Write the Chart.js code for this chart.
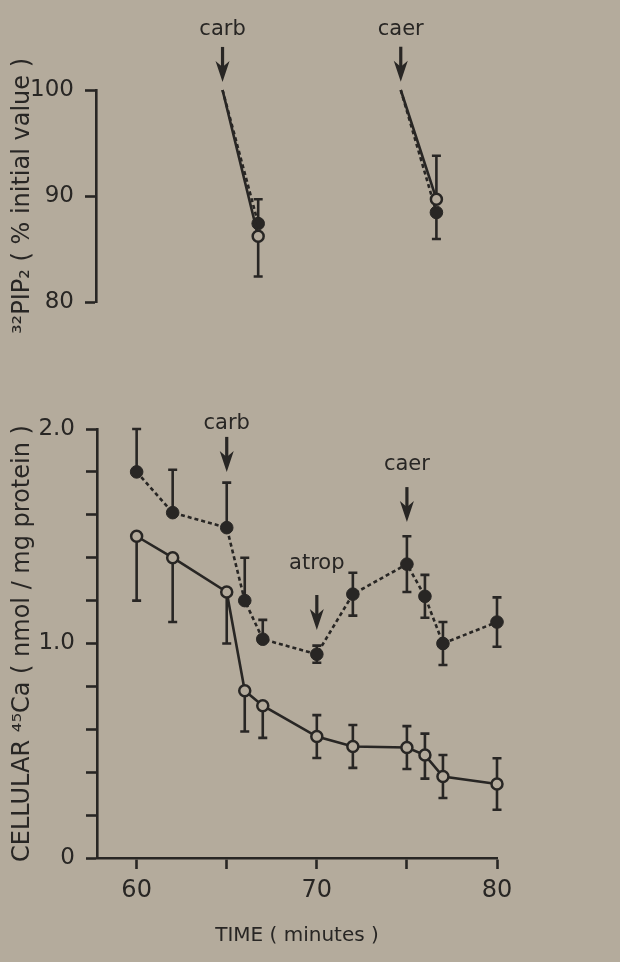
<!DOCTYPE html>
<html>
<head>
<meta charset="utf-8">
<script src="https://cdn.jsdelivr.net/npm/chart.js@4.4.1/dist/chart.umd.min.js"></script>
<style>
  body { margin: 0; background: #b4ab9c; }
  #wrap { position: relative; width: 620px; height: 962px; }
  canvas { position: absolute; left: 0; }
  #pipChart { top: 0; }
  #caChart { top: 340px; }
</style>
</head>
<body>
<div id="wrap">
  <canvas id="pipChart" width="620" height="340"></canvas>
  <canvas id="caChart" width="620" height="622"></canvas>
</div>
<script>
// 32P-PIP2 (% of initial value) just after carb and caer
var pipTimes = [65, 67, 75, 77];
var pipFilled = [100, 87.4, 100, 88.45];
var pipFilledUp = [0, 2.3, 0, 0];
var pipFilledDown = [0, 0, 0, 2.5];
var pipOpen = [100, 86.2, 100, 89.7];
var pipOpenUp = [0, 0, 0, 4.1];
var pipOpenDown = [0, 3.8, 0, 0];

// cellular 45Ca (nmol / mg protein)
var caTimes = [60, 62, 65, 66, 67, 70, 72, 75, 76, 77, 80];
var caFilled = [1.80, 1.61, 1.54, 1.20, 1.02, 0.95, 1.23, 1.37, 1.22, 1.00, 1.10];
var caFilledUp = [0.20, 0.20, 0.21, 0.20, 0.09, 0.04, 0.10, 0.13, 0.10, 0.10, 0.115];
var caFilledDown = [0, 0, 0, 0, 0, 0.04, 0.10, 0.13, 0.10, 0.10, 0.115];
var caOpen = [1.50, 1.40, 1.24, 0.78, 0.71, 0.566, 0.52, 0.515, 0.48, 0.38, 0.345];
var caOpenUp = [0, 0, 0, 0, 0, 0.10, 0.10, 0.10, 0.10, 0.10, 0.12];
var caOpenDown = [0.30, 0.30, 0.24, 0.19, 0.15, 0.10, 0.10, 0.10, 0.11, 0.10, 0.12];

var timeTicks = [60, 65, 70, 75, 80];
var timeLabels = [60, 70, 80];
var pipTicks = [80, 90, 100];
var caTicks = [0, 0.2, 0.4, 0.6, 0.8, 1.0, 1.2, 1.4, 1.6, 1.8, 2.0];
var caLabels = [0, 1, 2];

// drug additions: name, time, arrow tip value, label baseline value
var pipMarks = [['carb', 65, 100.76, 105.2], ['caer', 75, 100.78, 105.2]];
var caMarks = [['carb', 65, 1.80, 2.0], ['atrop', 70, 1.063, 1.347], ['caer', 75, 1.566, 1.81]];

var INK = '#282624';
var BG = '#b4ab9c';
var FONT = '"DejaVu Sans", sans-serif';

Chart.defaults.font.family = FONT;
Chart.defaults.color = INK;

function series(times, vals, up, down) {
    return times.map(function (t, i) {
        return { x: t, y: vals[i], up: up[i], down: down[i] };
    });
}

// vertical error bars with small caps, drawn under the markers
var errorBars = {
    id: 'errorBars',
    beforeDatasetsDraw: function (chart) {
        var ctx = chart.ctx, ys = chart.scales.y;
        ctx.save();
        ctx.strokeStyle = INK;
        ctx.lineWidth = 2.6;
        chart.data.datasets.forEach(function (ds, i) {
            var meta = chart.getDatasetMeta(i);
            ds.data.forEach(function (p, j) {
                if (p.y == null) return;
                var px = meta.data[j].x, py = ys.getPixelForValue(p.y);
                [[p.up, 1], [p.down, -1]].forEach(function (e) {
                    if (!e[0]) return;
                    var end = ys.getPixelForValue(p.y + e[0] * e[1]);
                    ctx.beginPath();
                    ctx.moveTo(px, py);
                    ctx.lineTo(px, end);
                    ctx.moveTo(px - 4.5, end);
                    ctx.lineTo(px + 4.5, end);
                    ctx.stroke();
                });
            });
        });
        ctx.restore();
    }
};

// arrows + names for carb / atrop / caer
var drugArrows = {
    id: 'drugArrows',
    afterDatasetsDraw: function (chart, args, opts) {
        var ctx = chart.ctx, xs = chart.scales.x, ys = chart.scales.y;
        ctx.save();
        ctx.fillStyle = INK;
        ctx.strokeStyle = INK;
        ctx.font = '21px ' + FONT;
        ctx.textAlign = 'center';
        ctx.textBaseline = 'alphabetic';
        (opts.marks || []).forEach(function (m) {
            var x = xs.getPixelForValue(m[1]), tip = ys.getPixelForValue(m[2]);
            ctx.lineWidth = 3.2;
            ctx.beginPath();
            ctx.moveTo(x, tip - 35);
            ctx.lineTo(x, tip - 12);
            ctx.stroke();
            ctx.beginPath();
            ctx.moveTo(x, tip);
            ctx.lineTo(x - 7, tip - 21);
            ctx.lineTo(x, tip - 15);
            ctx.lineTo(x + 7, tip - 21);
            ctx.closePath();
            ctx.fill();
            ctx.fillText(m[0], x, ys.getPixelForValue(m[3]));
        });
        ctx.restore();
    }
};

function openSet(data, radius) {
    return {
        data: data,
        borderColor: INK,
        borderWidth: 2.6,
        pointRadius: radius,
        pointBackgroundColor: BG,
        pointBorderColor: INK,
        pointBorderWidth: 2.5,
        clip: false,
        spanGaps: false
    };
}

function filledSet(data, radius) {
    return {
        data: data,
        borderColor: INK,
        borderWidth: 2.6,
        borderDash: [4, 3],
        pointRadius: radius,
        pointBackgroundColor: INK,
        pointBorderColor: INK,
        pointBorderWidth: 1,
        clip: false,
        spanGaps: false
    };
}

function yAxis(min, max, ticks, label, width, title) {
    return {
        type: 'linear',
        min: min,
        max: max,
        afterBuildTicks: function (s) { s.ticks = ticks.map(function (v) { return { value: v }; }); },
        afterFit: function (s) { s.width = width; },
        border: { color: INK, width: 2.6 },
        grid: { drawOnChartArea: false, drawTicks: true, tickLength: 11, tickWidth: 2.6, tickColor: INK },
        ticks: { padding: 11, font: { size: 23 }, callback: label },
        title: { display: true, text: title, font: { size: 24 }, padding: { top: 8, bottom: 0 } }
    };
}

// markers only where there is a measurement, not at the 100 % start
function pipRadius(r) {
    return function (c) { return c.raw && c.raw.y === 100 ? 0 : r; };
}

var pipOpenData = series(pipTimes, pipOpen, pipOpenUp, pipOpenDown);
var pipFilledData = series(pipTimes, pipFilled, pipFilledUp, pipFilledDown);
pipOpenData.splice(2, 0, { x: 71, y: null });
pipFilledData.splice(2, 0, { x: 71, y: null });

new Chart(document.getElementById('pipChart'), {
    type: 'line',
    data: { datasets: [openSet(pipOpenData, pipRadius(5.5)), filledSet(pipFilledData, pipRadius(6.3))] },
    options: {
        responsive: false,
        animation: false,
        layout: { padding: { left: 0, right: 123, top: 90, bottom: 38 } },
        plugins: { legend: { display: false }, tooltip: { enabled: false }, drugArrows: { marks: pipMarks } },
        scales: {
            x: { type: 'linear', display: false, min: 57.9, max: 80.4 },
            y: yAxis(80, 100, pipTicks, function (v) { return String(v); }, 96,
                '\u00b3\u00b2PIP\u2082 ( % initial value )')
        }
    },
    plugins: [errorBars, drugArrows]
});

new Chart(document.getElementById('caChart'), {
    type: 'line',
    data: {
        datasets: [
            openSet(series(caTimes, caOpen, caOpenUp, caOpenDown), 5.5),
            filledSet(series(caTimes, caFilled, caFilledUp, caFilledDown), 6.3)
        ]
    },
    options: {
        responsive: false,
        animation: false,
        layout: { padding: { left: 0, right: 123, top: 89, bottom: 0 } },
        plugins: { legend: { display: false }, tooltip: { enabled: false }, drugArrows: { marks: caMarks } },
        scales: {
            x: {
                type: 'linear',
                min: 57.8,
                max: 80,
                afterBuildTicks: function (s) { s.ticks = timeTicks.map(function (v) { return { value: v }; }); },
                afterFit: function (s) { s.height = 104; },
                border: { color: INK, width: 2.6 },
                grid: { drawOnChartArea: false, drawTicks: true, tickLength: 11, tickWidth: 2.6, tickColor: INK },
                ticks: {
                    padding: 7,
                    maxRotation: 0,
                    font: { size: 24 },
                    callback: function (v) { return timeLabels.indexOf(v) >= 0 ? String(v) : ''; }
                },
                title: { display: true, text: 'TIME ( minutes )', font: { size: 20 }, padding: { top: 0, bottom: 14 } }
            },
            y: yAxis(0, 2, caTicks, function (v) {
                if (caLabels.indexOf(v) < 0) return '';
                return v === 0 ? '0' : v.toFixed(1);
            }, 97, 'CELLULAR \u2074\u2075Ca ( nmol / mg protein )')
        }
    },
    plugins: [errorBars, drugArrows]
});
</script>
</body>
</html>
